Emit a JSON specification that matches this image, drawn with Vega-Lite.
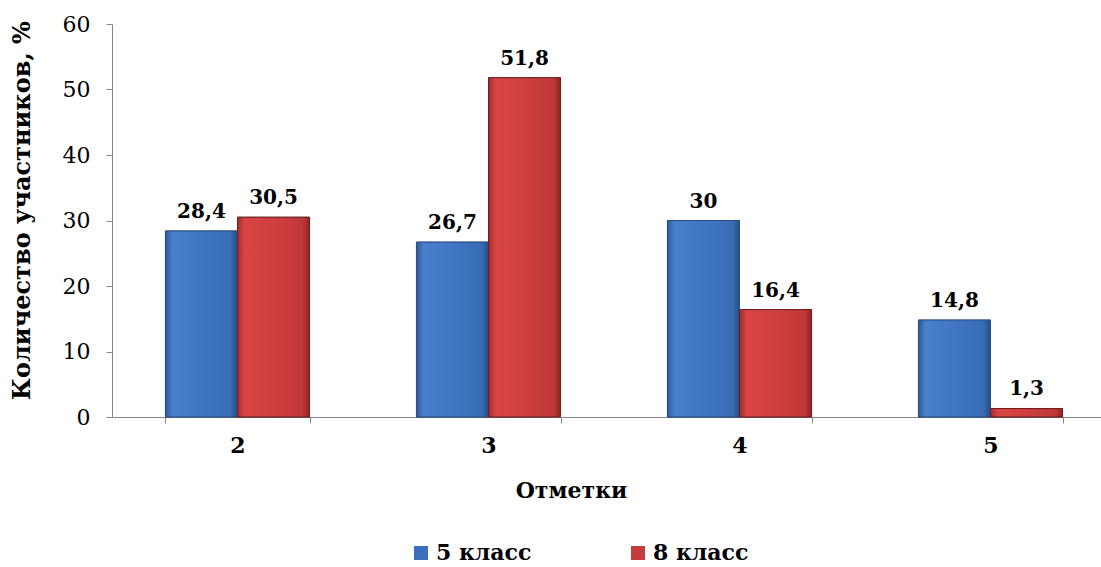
{
  "$schema": "https://vega.github.io/schema/vega-lite/v6.json",
  "width": 1004,
  "height": 393,
  "autosize": {"type": "none"},
  "padding": {"left": 112, "top": 24, "right": 0, "bottom": 150},
  "background": "white",
  "config": {
    "view": {"stroke": null},
    "font": "DejaVu Serif",
    "axis": {"labelFont": "DejaVu Serif", "titleFont": "DejaVu Serif"},
    "legend": {"labelFont": "DejaVu Serif"},
    "text": {"font": "DejaVu Serif"}
  },
  "data": {
    "values": [
      {"mark": "2", "series": "5 класс", "value": 28.4, "label": "28,4"},
      {"mark": "2", "series": "8 класс", "value": 30.5, "label": "30,5"},
      {"mark": "3", "series": "5 класс", "value": 26.7, "label": "26,7"},
      {"mark": "3", "series": "8 класс", "value": 51.8, "label": "51,8"},
      {"mark": "4", "series": "5 класс", "value": 30, "label": "30"},
      {"mark": "4", "series": "8 класс", "value": 16.4, "label": "16,4"},
      {"mark": "5", "series": "5 класс", "value": 14.8, "label": "14,8"},
      {"mark": "5", "series": "8 класс", "value": 1.3, "label": "1,3"}
    ]
  },
  "encoding": {
    "x": {
      "field": "mark", "type": "nominal",
      "scale": {"paddingInner": 0.426, "paddingOuter": 0.213},
      "axis": {
        "title": "Отметки",
        "titleFontSize": 22, "titleFontWeight": "bold", "titleColor": "black",
        "titlePadding": 24, "titleX": 459, "titleAlign": "center",
        "labelAngle": 0, "labelFontSize": 22, "labelFontWeight": "bold", "labelColor": "black",
        "labelPadding": 12,
        "domainColor": "#868686", "tickColor": "#868686", "tickSize": 6, "tickBand": "extent"
      }
    },
    "xOffset": {"field": "series", "type": "nominal", "scale": {"paddingInner": 0, "paddingOuter": 0}},
    "y": {
      "field": "value", "type": "quantitative",
      "scale": {"domain": [0, 60]},
      "axis": {
        "title": "Количество участников, %",
        "titleFontSize": 24, "titleFontWeight": "bold", "titleColor": "black",
        "titleX": -90, "titleY": 186, "titleAlign": "center", "titleBaseline": "middle", "titleAngle": 270,
        "values": [0, 10, 20, 30, 40, 50, 60],
        "grid": false,
        "labelFontSize": 22, "labelColor": "black", "labelPadding": 16,
        "domainColor": "#868686", "tickColor": "#868686", "tickSize": 6
      }
    }
  },
  "layer": [
    {
      "mark": {"type": "bar", "stroke": "#333333", "strokeWidth": 0.8},
      "encoding": {
        "color": {
          "field": "series", "type": "nominal",
          "scale": {"domain": ["5 класс", "8 класс"], "range": ["#3b6fbd", "#c43c3c"]},
          "legend": {
            "title": null, "orient": "none", "direction": "horizontal",
            "legendX": 298, "legendY": 518,
            "symbolType": "square", "symbolSize": 196, "symbolStrokeWidth": 0,
            "labelFontSize": 22, "labelFontWeight": "bold", "labelColor": "black",
            "labelOffset": 4, "columnPadding": 95
          }
        }
      }
    },
    {
      "transform": [{"filter": "datum.series === '5 класс'"}],
      "mark": {
        "type": "bar", "stroke": "#274f8a", "strokeWidth": 1,
        "fill": {"gradient": "linear", "x1": 0, "y1": 0, "x2": 1, "y2": 0,
          "stops": [
            {"offset": 0, "color": "#2c5a98"},
            {"offset": 0.1, "color": "#4a7fcc"},
            {"offset": 0.5, "color": "#3f75c3"},
            {"offset": 0.9, "color": "#3a6db6"},
            {"offset": 1, "color": "#254e88"}
          ]}
      }
    },
    {
      "transform": [{"filter": "datum.series === '8 класс'"}],
      "mark": {
        "type": "bar", "stroke": "#6e1e1e", "strokeWidth": 1,
        "fill": {"gradient": "linear", "x1": 0, "y1": 0, "x2": 1, "y2": 0,
          "stops": [
            {"offset": 0, "color": "#a32c2c"},
            {"offset": 0.1, "color": "#d84444"},
            {"offset": 0.5, "color": "#cf3f3f"},
            {"offset": 0.9, "color": "#c03838"},
            {"offset": 1, "color": "#8e2424"}
          ]}
      }
    },
    {
      "mark": {"type": "text", "fontSize": 20, "fontWeight": "bold", "color": "black", "baseline": "bottom", "dy": -9},
      "encoding": {"text": {"field": "label"}}
    }
  ]
}
